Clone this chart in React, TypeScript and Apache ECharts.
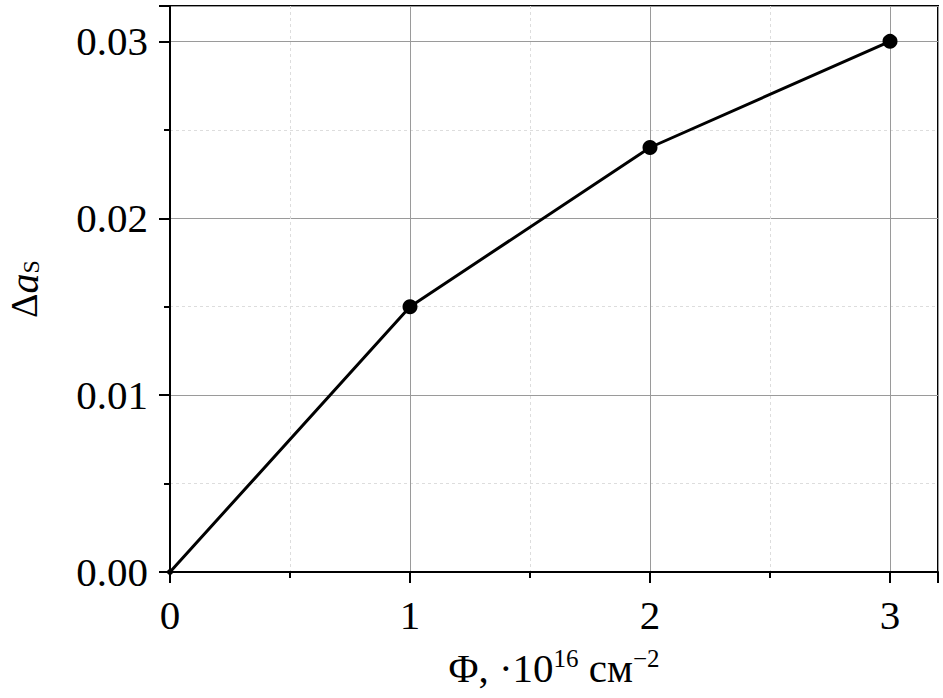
import React, { useEffect, useRef } from "react";
import * as echarts from "echarts";

const xValues = [0, 1, 2, 3];
const yValues = [0, 0.015, 0.024, 0.03];
const xTicks = [0, 1, 2, 3];
const yTicks = ["0.00", "0.01", "0.02", "0.03"];

const FONT = "Liberation Serif";

export default function App() {
  const ref = useRef<HTMLDivElement>(null);
  useEffect(() => {
    if (!ref.current) return;
    const chart = echarts.init(ref.current, null, { renderer: "svg" });
    const data = xValues.map((x, i) => [x, yValues[i]]);
    chart.setOption({
      animation: false,
      backgroundColor: "#fff",
      grid: {
        left: 170,
        top: 6,
        right: 5,
        bottom: 126,
        containLabel: false,
        outerBoundsMode: "none",
        show: true,
        borderColor: "#000",
        borderWidth: 2,
        backgroundColor: "transparent",
      },
      xAxis: {
        type: "value",
        min: 0,
        max: 3.2,
        interval: 1,
        axisLine: { show: true, onZero: false, lineStyle: { color: "#000", width: 2 } },
        axisTick: { show: true, inside: false, length: 11, lineStyle: { color: "#000", width: 2 } },
        minorTick: { show: true, splitNumber: 2, length: 6, lineStyle: { color: "#000", width: 2 } },
        splitLine: { show: true, lineStyle: { color: "#9a9a9a", width: 1 } },
        minorSplitLine: { show: true, lineStyle: { color: "#dddddd", width: 1, type: [3, 3] } },
        axisLabel: {
          fontFamily: FONT,
          fontSize: 41,
          color: "#000",
          margin: 22,
          formatter: (v: number) => (xTicks.includes(v) ? String(v) : ""),
        },
        name: "{t|Φ, ·10}{s|16}{t| см}{s|−2}",
        nameLocation: "middle",
        nameGap: 74,
        nameTextStyle: {
          rich: {
            t: { fontFamily: FONT, fontSize: 41, color: "#000", verticalAlign: "bottom", lineHeight: 42 },
            s: { fontFamily: FONT, fontSize: 25, color: "#000", verticalAlign: "top", lineHeight: 28, padding: [0, 0, 14, 0] },
          },
        },
      },
      yAxis: {
        type: "value",
        min: 0,
        max: 0.032,
        interval: 0.01,
        axisLine: { show: true, onZero: false, lineStyle: { color: "#000", width: 2 } },
        axisTick: { show: true, inside: false, length: 11, lineStyle: { color: "#000", width: 2 } },
        minorTick: { show: true, splitNumber: 2, length: 6, lineStyle: { color: "#000", width: 2 } },
        splitLine: { show: true, lineStyle: { color: "#9a9a9a", width: 1 } },
        minorSplitLine: { show: true, lineStyle: { color: "#dddddd", width: 1, type: [3, 3] } },
        axisLabel: {
          fontFamily: FONT,
          fontSize: 41,
          color: "#000",
          margin: 22,
          formatter: (v: number) => {
            const idx = Math.round(v / 0.01);
            return Math.abs(v - idx * 0.01) < 1e-9 && yTicks[idx] ? yTicks[idx] : "";
          },
        },
        name: "{t|Δ}{i|a}{s|S}",
        nameLocation: "middle",
        nameRotate: 90,
        nameGap: 127,
        nameTextStyle: {
          rich: {
            t: { fontFamily: FONT, fontSize: 38, color: "#000", lineHeight: 38 },
            i: { fontFamily: FONT, fontSize: 40, fontStyle: "italic", color: "#000", lineHeight: 38 },
            s: { fontFamily: FONT, fontSize: 24, color: "#000", lineHeight: 24, padding: [14, 0, 0, 0] },
          },
        },
      },
      series: [
        {
          type: "line",
          data,
          clip: false,
          symbol: "circle",
          symbolSize: (v: number[]) => (v[0] === 0 ? 6 : 15),
          lineStyle: { color: "#000", width: 3 },
          itemStyle: { color: "#000" },
        },
      ],
    });
    return () => chart.dispose();
  }, []);
  return <div ref={ref} style={{ width: 943, height: 698, position: "absolute", left: 0, top: 0 }} />;
}
